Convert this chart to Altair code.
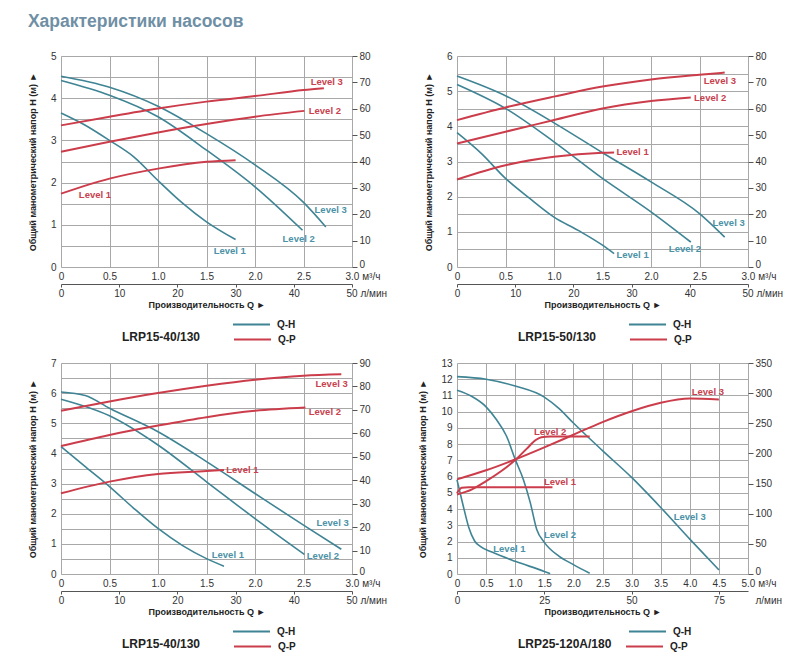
import altair as alt
import pandas as pd

FONT = "Liberation Sans"
TEAL = "#3f8494"
RED = "#cc3d4b"
TEAL_TXT = "#4b92a6"
RED_TXT = "#c8414e"
GRID = "#a8a8a8"
FRAME = "#555555"
TXT = "#333333"

LEVELS = ["Level 1", "Level 2", "Level 3"]
MODELS = ["LRP15-40/130", "LRP15-50/130", "LRP15-40/130", "LRP25-120A/180"]
MODEL_PAD = [32, 32, 32, 13]
MAIN_TITLE = "Характеристики насосов"
Y_TITLE = "Общий манометрический напор H (м) ►"
X_TITLE = "Производительность Q ►"

# tick values
X_TICKS_3 = [0, 0.5, 1.0, 1.5, 2.0, 2.5, 3.0]
X_TICKS_5 = [0, 0.5, 1.0, 1.5, 2.0, 2.5, 3.0, 3.5, 4.0, 4.5, 5.0]
L_TICKS_50 = [0, 10, 20, 30, 40, 50]
L_TICKS_83 = [0, 25, 50, 75, 83.333]
H_TICKS_5 = [0, 0.5, 1, 1.5, 2, 2.5, 3, 3.5, 4, 4.5, 5]
H_TICKS_6 = [0, 0.5, 1, 1.5, 2, 2.5, 3, 3.5, 4, 4.5, 5, 5.5, 6]
H_TICKS_7 = [0, 0.5, 1, 1.5, 2, 2.5, 3, 3.5, 4, 4.5, 5, 5.5, 6, 6.5, 7]
H_TICKS_13 = [0, 1, 2, 3, 4, 5, 6, 7, 8, 9, 10, 11, 12, 13]
P_TICKS_80 = [0, 10, 20, 30, 40, 50, 60, 70, 80]
P_TICKS_90 = [0, 10, 20, 30, 40, 50, 60, 70, 80, 90]
P_TICKS_350 = [0, 50, 100, 150, 200, 250, 300, 350]

# ---------- Panel 1: LRP15-40/130 ----------
P1_QH_L1_Q = [0, 0.25, 0.5, 0.75, 1.0, 1.25, 1.5, 1.8]
P1_QH_L1_H = [3.65, 3.36, 3.0, 2.61, 2.05, 1.52, 1.07, 0.65]
P1_QH_L2_Q = [0, 0.5, 1.0, 1.5, 2.0, 2.49]
P1_QH_L2_H = [4.42, 4.07, 3.56, 2.77, 1.90, 0.87]
P1_QH_L3_Q = [0, 0.5, 1.0, 1.5, 2.0, 2.5, 2.73]
P1_QH_L3_H = [4.52, 4.26, 3.81, 3.16, 2.42, 1.53, 0.95]
P1_QP_L1_Q = [0, 0.5, 1.0, 1.5, 1.8]
P1_QP_L1_P = [27.8, 33.5, 37.3, 39.9, 40.5]
P1_QP_L2_Q = [0, 0.5, 1.0, 1.5, 2.0, 2.51]
P1_QP_L2_P = [43.7, 47.5, 51.0, 54.2, 57.0, 59.2]
P1_QP_L3_Q = [0, 0.5, 1.0, 1.5, 2.0, 2.5, 2.71]
P1_QP_L3_P = [53.7, 57.0, 60.1, 62.7, 64.8, 67.1, 67.8]
P1_QH_LAB_Q = [1.74, 2.45, 2.78]
P1_QH_LAB_H = [0.38, 0.66, 1.34]
P1_QP_LAB_Q = [0.35, 2.72, 2.74]
P1_QP_LAB_P = [27.2, 59.1, 70.0]

# ---------- Panel 2: LRP15-50/130 ----------
P2_QH_L1_Q = [0, 0.25, 0.5, 0.75, 1.0, 1.25, 1.5, 1.62]
P2_QH_L1_H = [3.82, 3.23, 2.52, 1.95, 1.42, 1.04, 0.62, 0.38]
P2_QH_L2_Q = [0, 0.5, 1.0, 1.5, 2.0, 2.41]
P2_QH_L2_H = [5.19, 4.51, 3.56, 2.52, 1.57, 0.71]
P2_QH_L3_Q = [0, 0.5, 1.0, 1.5, 2.0, 2.5, 2.76]
P2_QH_L3_H = [5.43, 4.87, 4.10, 3.25, 2.42, 1.52, 0.85]
P2_QP_L1_Q = [0, 0.5, 1.0, 1.5, 1.62]
P2_QP_L1_P = [33.2, 38.6, 41.8, 43.3, 43.4]
P2_QP_L2_Q = [0, 0.5, 1.0, 1.5, 2.0, 2.41]
P2_QP_L2_P = [46.8, 51.3, 55.7, 60.1, 62.9, 64.3]
P2_QP_L3_Q = [0, 0.5, 1.0, 1.5, 2.0, 2.5, 2.76]
P2_QP_L3_P = [55.7, 60.5, 64.6, 68.4, 71.1, 72.9, 73.7]
P2_QH_LAB_Q = [1.81, 2.35, 2.80]
P2_QH_LAB_H = [0.35, 0.52, 1.24]
P2_QP_LAB_Q = [1.81, 2.61, 2.71]
P2_QP_LAB_P = [43.5, 64.2, 70.5]

# ---------- Panel 3: LRP15-40/130 ----------
P3_QH_L1_Q = [0, 0.25, 0.5, 0.75, 1.0, 1.25, 1.5, 1.68]
P3_QH_L1_H = [4.23, 3.56, 2.90, 2.18, 1.51, 0.95, 0.51, 0.26]
P3_QH_L2_Q = [0, 0.5, 1.0, 1.5, 2.0, 2.51]
P3_QH_L2_H = [5.80, 5.25, 4.28, 3.06, 1.84, 0.65]
P3_QH_L3_Q = [0, 0.25, 0.5, 1.0, 1.5, 2.0, 2.5, 2.89]
P3_QH_L3_H = [6.04, 5.92, 5.50, 4.72, 3.73, 2.67, 1.62, 0.82]
P3_QP_L1_Q = [0, 0.5, 1.0, 1.5, 1.68]
P3_QP_L1_P = [34.4, 39.4, 42.7, 43.9, 44.4]
P3_QP_L2_Q = [0, 0.5, 1.0, 1.5, 2.0, 2.52]
P3_QP_L2_P = [54.6, 59.3, 63.3, 66.9, 69.6, 71.0]
P3_QP_L3_Q = [0, 0.5, 1.0, 1.5, 2.0, 2.5, 2.89]
P3_QP_L3_P = [69.6, 73.6, 77.2, 80.3, 82.9, 84.6, 85.2]
P3_QH_LAB_Q = [1.72, 2.70, 2.80]
P3_QH_LAB_H = [0.63, 0.59, 1.68]
P3_QP_LAB_Q = [1.87, 2.72, 2.79]
P3_QP_LAB_P = [44.4, 69.0, 81.0]

# ---------- Panel 4: LRP25-120A/180 ----------
P4_QH_L1_Q = [0, 0.1, 0.2, 0.3, 0.4, 0.6, 1.0, 1.5, 1.6]
P4_QH_L1_H = [5.8, 4.3, 2.9, 2.05, 1.7, 1.35, 0.78, 0.16, 0.02]
P4_QH_L2_Q = [0, 0.25, 0.5, 0.68, 0.85, 1.0, 1.14, 1.26, 1.37, 1.5, 1.75, 2.0, 2.28]
P4_QH_L2_H = [11.32, 10.95, 10.3, 9.5, 8.5, 7.06, 5.82, 4.38, 2.74, 1.95, 1.1, 0.58, 0.05]
P4_QH_L3_Q = [0, 0.5, 1.0, 1.5, 1.75, 2.0, 2.5, 3.0, 3.5, 4.0, 4.5]
P4_QH_L3_H = [12.16, 12.0, 11.58, 10.9, 10.2, 9.3, 7.6, 5.95, 4.1, 2.15, 0.25]
P4_QP_L1_Q = [0, 0.08, 0.2, 1.64]
P4_QP_L1_P = [134, 143, 144, 144]
P4_QP_L2_Q = [0, 0.25, 0.5, 0.75, 1.0, 1.2, 1.35, 1.45, 1.6, 2.28]
P4_QP_L2_P = [132, 140, 154, 170, 189, 208, 222, 227, 228, 228]
P4_QP_L3_Q = [0, 0.5, 1.0, 1.5, 2.0, 2.5, 3.0, 3.5, 4.0, 4.5]
P4_QP_L3_P = [157, 172, 190, 210, 231, 252, 270, 284, 291, 289.6]
P4_QH_LAB_Q = [0.90, 1.77, 4.0]
P4_QH_LAB_H = [1.52, 2.43, 3.5]
P4_QP_LAB_Q = [1.77, 1.60, 4.31]
P4_QP_LAB_P = [153, 236, 302]


def curves_frame(curves, series):
    rows = []
    for lvl, (qs, vs) in zip(LEVELS, curves):
        for q, v in zip(qs, vs):
            rows.append({"q": q, "v": v, "level": lvl, "series": series})
    return pd.DataFrame(rows)


def labels_frame(qs, vs):
    return pd.DataFrame({"q": qs, "v": vs, "t": LEVELS})


LEG_COMMON = dict(
    orient="none", direction="vertical",
    symbolType="stroke", symbolSize=1369, symbolStrokeWidth=1.8,
    labelFont=FONT, labelFontSize=10, labelFontWeight="bold", labelColor="#222",
    labelOffset=6, padding=0,
)


def make_panel(model, model_pad, xmax, xvals, hmax, hvals, pmax, pvals, lmax, lvals, unit_after,
               qh_curves, qp_curves, qh_lab, qp_lab):
    last = f"abs(datum.value - {xmax}) < 0.001"
    x_axis = alt.Axis(
        values=xvals, grid=True, gridColor=GRID, gridWidth=1, ticks=False, tickSize=0, domain=False,
        labelExpr=f"datum.value == 0 ? '0' : ({last} ? format(datum.value, '.1f') + ' м³/ч' : format(datum.value, '.1f'))",
        labelAlign={"condition": {"test": last, "value": "left"}, "value": "center"},
        labelOffset={"condition": {"test": last, "value": -7}, "value": 0},
        labelFlush=False, labelOverlap=False, labelPadding=4,
        labelFont=FONT, labelFontSize=10, labelColor=TXT, title=None,
    )
    x_main = alt.X("q:Q", scale=alt.Scale(domain=[0, xmax], nice=False), axis=x_axis)
    y_h = alt.Y(
        "v:Q", scale=alt.Scale(domain=[0, hmax], nice=False),
        axis=alt.Axis(
            values=hvals, grid=True, gridColor=GRID, gridWidth=1, ticks=False, tickSize=0, domain=False,
            labelExpr="datum.value % 1 == 0 ? format(datum.value, 'd') : ''", labelOverlap=False,
            labelPadding=5, labelFont=FONT, labelFontSize=10, labelColor=TXT,
            title=Y_TITLE, titleFont=FONT, titleFontSize=9, titleFontWeight="bold",
            titleColor="#222", titlePadding=13,
        ),
    )
    stroke_h = alt.Stroke(
        "series:N", scale=alt.Scale(domain=["Q-H"], range=[TEAL]),
        legend=alt.Legend(legendX=171, legendY=249, title=None, **LEG_COMMON),
    )
    qh_df = curves_frame(qh_curves, "Q-H")
    line_h = alt.Chart(qh_df).mark_line(interpolate="monotone", strokeWidth=1.6).encode(
        x=x_main, y=y_h, stroke=stroke_h, detail="level:N")
    text_h = alt.Chart(labels_frame(*qh_lab)).mark_text(
        font=FONT, fontSize=9.5, fontWeight="bold", color=TEAL_TXT).encode(x=x_main, y=y_h, text="t:N")
    layer_h = alt.layer(line_h, text_h)

    x_hidden = alt.X("q:Q", scale=alt.Scale(domain=[0, xmax], nice=False), axis=None)
    y_p = alt.Y(
        "v:Q", scale=alt.Scale(domain=[0, pmax], nice=False),
        axis=alt.Axis(
            orient="right", values=pvals, grid=False, ticks=True, tickSize=5, tickColor=FRAME,
            domain=False, labelPadding=2, labelOverlap=False,
            labelOffset={"condition": {"test": "datum.value == 0", "value": -3}, "value": 0},
            labelFont=FONT, labelFontSize=10, labelColor=TXT, title=None,
        ),
    )
    color_p = alt.Color(
        "series:N", scale=alt.Scale(domain=["Q-P"], range=[RED]),
        legend=alt.Legend(
            legendX=61, legendY=264, title=model, titleOrient="left", titleAnchor="middle",
            titleBaseline="top", titleFont=FONT, titleFontSize=12, titleFontWeight="bold",
            titleColor="#222", titlePadding=model_pad, titleLimit=200, **LEG_COMMON),
    )
    qp_df = curves_frame(qp_curves, "Q-P")
    line_p = alt.Chart(qp_df).mark_line(interpolate="monotone", strokeWidth=2).encode(
        x=x_hidden, y=y_p, color=color_p, detail="level:N")
    text_p = alt.Chart(labels_frame(*qp_lab)).mark_text(
        font=FONT, fontSize=9.5, fontWeight="bold", color=RED_TXT).encode(x=x_hidden, y=y_p, text="t:N")
    layer_p = alt.layer(line_p, text_p)

    llast = f"datum.value > {lvals[-1] - 0.01}"
    if unit_after:
        lexpr = f"{llast} ? 'л/мин' : format(datum.value, 'd')"
        loff = 7
        topac = {"condition": {"test": llast, "value": 0}, "value": 1}
    else:
        lexpr = f"{llast} ? format(datum.value, 'd') + ' л/мин' : format(datum.value, 'd')"
        loff = -6
        topac = 1
    l_axis = alt.Axis(
        orient="bottom", offset=17, values=lvals, grid=False, domain=True, domainColor=FRAME,
        ticks=True, tickSize=3, tickColor=FRAME, tickOpacity=topac, labelPadding=1,
        labelExpr=lexpr,
        labelAlign={"condition": {"test": llast, "value": "left"}, "value": "center"},
        labelOffset={"condition": {"test": llast, "value": loff}, "value": 0},
        labelFlush=False, labelOverlap=False,
        labelFont=FONT, labelFontSize=10, labelColor=TXT,
        title=X_TITLE, titleFont=FONT, titleFontSize=9, titleFontWeight="bold",
        titleColor="#222", titlePadding=2,
    )
    helper = alt.Chart(pd.DataFrame({"l": [0, lmax]})).mark_point(opacity=0).encode(
        x=alt.X("l:Q", scale=alt.Scale(domain=[0, lmax], nice=False), axis=l_axis))

    return alt.layer(layer_h, layer_p, helper).resolve_scale(
        x="independent", y="independent"
    ).properties(width=291, height=211)


p1 = make_panel(MODELS[0], MODEL_PAD[0], 3.0, X_TICKS_3, 5, H_TICKS_5, 80, P_TICKS_80, 50, L_TICKS_50, False,
                [(P1_QH_L1_Q, P1_QH_L1_H), (P1_QH_L2_Q, P1_QH_L2_H), (P1_QH_L3_Q, P1_QH_L3_H)],
                [(P1_QP_L1_Q, P1_QP_L1_P), (P1_QP_L2_Q, P1_QP_L2_P), (P1_QP_L3_Q, P1_QP_L3_P)],
                (P1_QH_LAB_Q, P1_QH_LAB_H), (P1_QP_LAB_Q, P1_QP_LAB_P))
p2 = make_panel(MODELS[1], MODEL_PAD[1], 3.0, X_TICKS_3, 6, H_TICKS_6, 80, P_TICKS_80, 50, L_TICKS_50, False,
                [(P2_QH_L1_Q, P2_QH_L1_H), (P2_QH_L2_Q, P2_QH_L2_H), (P2_QH_L3_Q, P2_QH_L3_H)],
                [(P2_QP_L1_Q, P2_QP_L1_P), (P2_QP_L2_Q, P2_QP_L2_P), (P2_QP_L3_Q, P2_QP_L3_P)],
                (P2_QH_LAB_Q, P2_QH_LAB_H), (P2_QP_LAB_Q, P2_QP_LAB_P))
p3 = make_panel(MODELS[2], MODEL_PAD[2], 3.0, X_TICKS_3, 7, H_TICKS_7, 90, P_TICKS_90, 50, L_TICKS_50, False,
                [(P3_QH_L1_Q, P3_QH_L1_H), (P3_QH_L2_Q, P3_QH_L2_H), (P3_QH_L3_Q, P3_QH_L3_H)],
                [(P3_QP_L1_Q, P3_QP_L1_P), (P3_QP_L2_Q, P3_QP_L2_P), (P3_QP_L3_Q, P3_QP_L3_P)],
                (P3_QH_LAB_Q, P3_QH_LAB_H), (P3_QP_LAB_Q, P3_QP_LAB_P))
p4 = make_panel(MODELS[3], MODEL_PAD[3], 5.0, X_TICKS_5, 13, H_TICKS_13, 350, P_TICKS_350, 83.333, L_TICKS_83, True,
                [(P4_QH_L1_Q, P4_QH_L1_H), (P4_QH_L2_Q, P4_QH_L2_H), (P4_QH_L3_Q, P4_QH_L3_H)],
                [(P4_QP_L1_Q, P4_QP_L1_P), (P4_QP_L2_Q, P4_QP_L2_P), (P4_QP_L3_Q, P4_QP_L3_P)],
                (P4_QH_LAB_Q, P4_QH_LAB_H), (P4_QP_LAB_Q, P4_QP_LAB_P))

chart = alt.concat(
    p1, p2, p3, p4, columns=2, spacing={"row": 96, "column": 105}, bounds="flush"
).resolve_scale(
    color="independent", stroke="independent"
).properties(
    title=alt.TitleParams(MAIN_TITLE, anchor="start", font=FONT, fontSize=17.5, fontWeight="bold",
                          color="#6f8fa5", offset=20),
    padding={"left": 19, "top": 5, "right": 5, "bottom": 5},
    background="white",
).configure_view(stroke=FRAME, strokeWidth=1).configure(font=FONT)

chart.save("out.html", embed_options={"renderer": "svg", "actions": False})
